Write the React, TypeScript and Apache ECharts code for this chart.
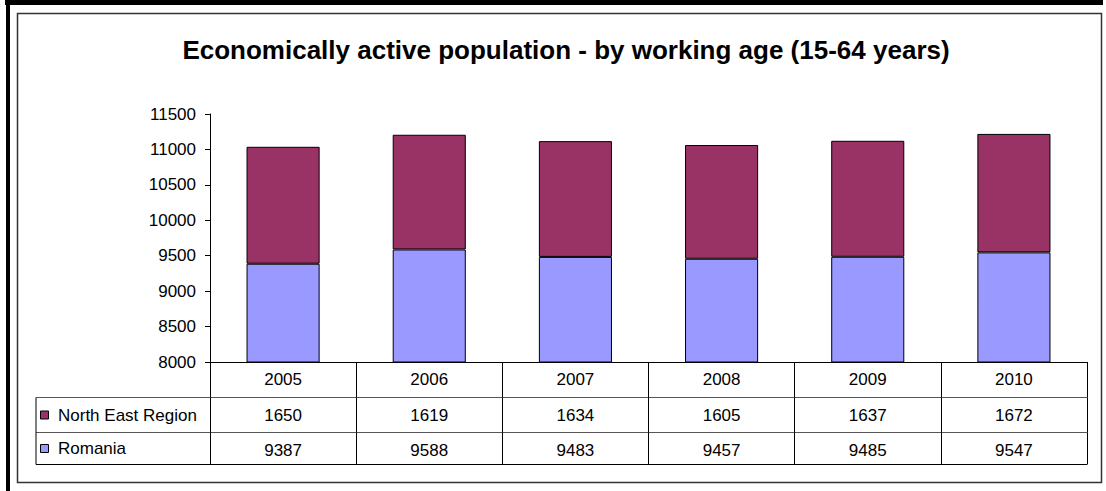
import React, { useEffect, useRef } from "react";
import * as echarts from "echarts";

const years = ["2005", "2006", "2007", "2008", "2009", "2010"];
const romania = [9387, 9588, 9483, 9457, 9485, 9547];
const northEast = [1650, 1619, 1634, 1605, 1637, 1672];
const seriesNames = ["North East Region", "Romania"];
const colors = ["#993366", "#9999FF"];
const titleText = "Economically active population - by working age (15-64 years)";

const FONT = "'Liberation Sans', Arial, sans-serif";

export default function App() {
  const ref = useRef<HTMLDivElement>(null);
  useEffect(() => {
    document.body.style.margin = "0";
    const chart = echarts.init(ref.current!, null, { renderer: "svg" });
    const tableLeft = 36;
    const axisX = 210;
    const tableRight = 1087;
    const rowTops = [397.5, 432.5];
    const rowBottom = 464.5;
    const graphics: any[] = [
      { type: "rect", shape: { x: 5, y: 0, width: 1098, height: 5 }, style: { fill: "#000" }, silent: true },
      { type: "rect", shape: { x: 6, y: 0, width: 4, height: 491 }, style: { fill: "#000" }, silent: true },
      { type: "rect", shape: { x: 17.5, y: 13.5, width: 1084, height: 469 }, style: { fill: "none", stroke: "#333", lineWidth: 1.5 }, silent: true },
      { type: "line", shape: { x1: tableLeft, y1: rowTops[0], x2: axisX, y2: rowTops[0] }, style: { stroke: "#555", lineWidth: 1 } },
      { type: "line", shape: { x1: tableLeft, y1: rowTops[1], x2: axisX, y2: rowTops[1] }, style: { stroke: "#555", lineWidth: 1 } },
      { type: "line", shape: { x1: tableLeft, y1: rowBottom, x2: tableRight, y2: rowBottom }, style: { stroke: "#000", lineWidth: 1 } },
      { type: "line", shape: { x1: tableLeft, y1: rowTops[0], x2: tableLeft, y2: rowBottom }, style: { stroke: "#000", lineWidth: 1 } },
    ];
    seriesNames.forEach((name, i) => {
      const cy = i === 0 ? 415 : 448.5;
      graphics.push({
        type: "rect",
        shape: { x: 40.5, y: cy - 4, width: 8, height: 8 },
        style: { fill: colors[i], stroke: "#000", lineWidth: 1 },
      });
      graphics.push({
        type: "text",
        x: 58,
        y: cy,
        style: { text: name, fontSize: 17, fontFamily: FONT, fill: "#000", verticalAlign: "middle", align: "left" },
      });
    });

    const tableAxis = (data: string[], offset: number, tickLen: number) => ({
      type: "category",
      position: "bottom",
      offset,
      data,
      axisLine: { show: true, lineStyle: { color: "#555", width: 1 } },
      axisTick: { show: true, interval: 0, length: tickLen, lineStyle: { color: "#000", width: 1 } },
      axisLabel: { interval: 0, fontSize: 17, fontFamily: FONT, color: "#000", margin: 9 },
      splitLine: { show: false },
    });

    chart.setOption({
      animation: false,
      backgroundColor: "#fff",
      title: {
        text: titleText,
        left: 561,
        textAlign: "center",
        top: 32,
        textStyle: { fontSize: 26, fontWeight: "bold", fontFamily: FONT, color: "#000" },
      },
      grid: { left: axisX, right: 1106 - tableRight, top: 114, bottom: 129, containLabel: false },
      xAxis: [
        {
          ...tableAxis(years, 0, 35.5),
          axisLine: { show: true, lineStyle: { color: "#000", width: 1 } },
        },
        tableAxis(northEast.map(String), 35.5, 35),
        tableAxis(romania.map(String), 70.5, 32),
      ],
      yAxis: {
        type: "value",
        min: 8000,
        max: 11500,
        interval: 500,
        axisLine: { show: true, lineStyle: { color: "#000", width: 1 } },
        axisTick: { show: true, length: 5, lineStyle: { color: "#000" } },
        axisLabel: { fontSize: 17, fontFamily: FONT, color: "#000", margin: 14, formatter: (v: number) => String(v) },
        splitLine: { show: false },
      },
      series: [
        {
          name: seriesNames[1],
          type: "bar",
          stack: "total",
          xAxisIndex: 0,
          barWidth: "50%",
          data: romania,
          itemStyle: { color: colors[1], borderColor: "#000", borderWidth: 1 },
        },
        {
          name: seriesNames[0],
          type: "bar",
          stack: "total",
          xAxisIndex: 0,
          barWidth: "50%",
          data: northEast,
          itemStyle: { color: colors[0], borderColor: "#000", borderWidth: 1 },
        },
      ],
      graphic: graphics,
    });
    return () => chart.dispose();
  }, []);
  return <div ref={ref} style={{ width: 1106, height: 491 }} />;
}
